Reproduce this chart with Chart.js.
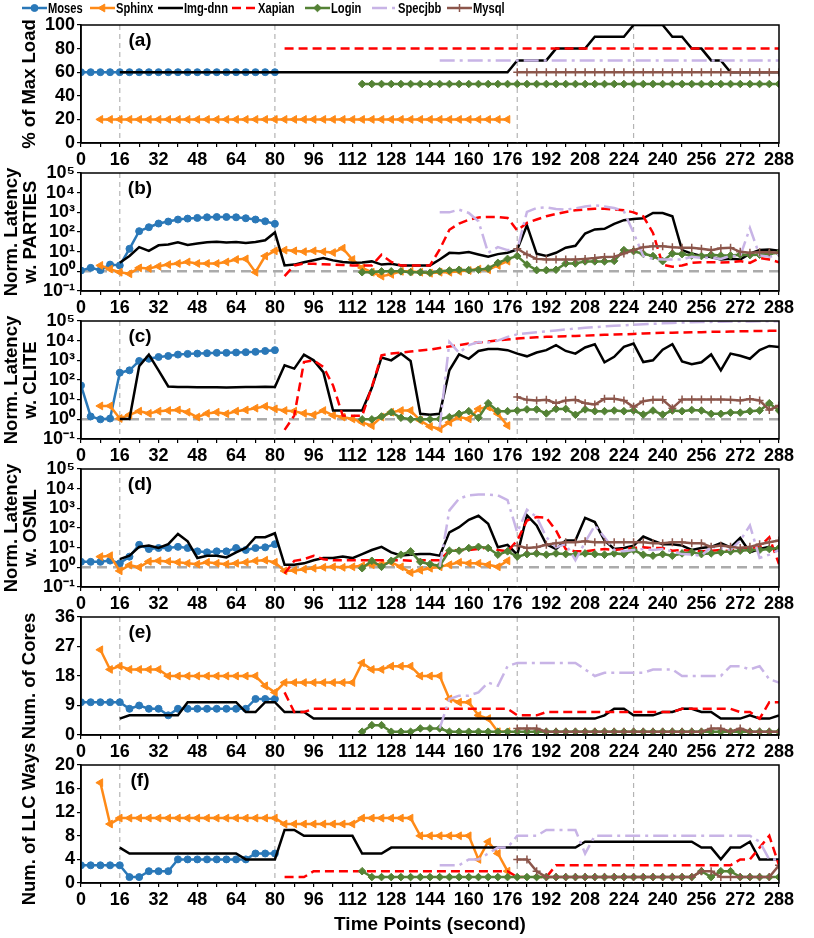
<!DOCTYPE html>
<html>
<head>
<meta charset="utf-8">
<script src="https://cdn.jsdelivr.net/npm/chart.js@4.4.1/dist/chart.umd.min.js"></script>
<style>
  body { margin: 0; background: #fff; }
  #wrap { position: relative; width: 814px; height: 938px; }
  #wrap canvas { position: absolute; left: 0; top: 0; }
</style>
</head>
<body>
<div id="wrap">
  <canvas id="pa" width="814" height="938"></canvas>
  <canvas id="pb" width="814" height="938"></canvas>
  <canvas id="pc" width="814" height="938"></canvas>
  <canvas id="pd" width="814" height="938"></canvas>
  <canvas id="pe" width="814" height="938"></canvas>
  <canvas id="pf" width="814" height="938"></canvas>
</div>
<script>
// apps and the time point each one starts at (samples every 4 s)
const apps = ['Moses', 'Sphinx', 'Img-dnn', 'Xapian', 'Login', 'Specjbb', 'Mysql'];
const appStart = [0, 8, 16, 84, 116, 148, 180];
const step = 4;
const phaseMarks = [16, 80, 180, 228];

const logTicks = [0.1, 1, 10, 100, 1000, 10000, 100000];
const logTickLabels = ['10⁻¹', '10⁰', '10¹', '10²', '10³', '10⁴', '10⁵'];

// (a) % of max load
const loadMoses = [60,60,60,60,60,60,60,60,60,60, 60,60,60,60,60,60,60,60,60,60, 60];
const loadSphinx = [20,20,20,20,20,20,20,20,20,20, 20,20,20,20,20,20,20,20,20,20,
  20,20,20,20,20,20,20,20,20,20, 20,20,20,20,20,20,20,20,20,20, 20,20,20];
const loadImg = [60,60,60,60,60,60,60,60,60,60, 60,60,60,60,60,60,60,60,60,60,
  60,60,60,60,60,60,60,60,60,60, 60,60,60,60,60,60,60,60,60,60, 60,
  70,70,70,70, 80,80,80,80, 90,90,90,90, 100,100,100,100, 90,90, 80,80, 70,70, 60,60,60,60,60,60];
const loadXapian = [80,80,80,80,80,80,80,80,80,80, 80,80,80,80,80,80,80,80,80,80,
  80,80,80,80,80,80,80,80,80,80, 80,80,80,80,80,80,80,80,80,80,
  80,80,80,80,80,80,80,80,80,80, 80,80];
const loadLogin = [50,50,50,50,50,50,50,50,50,50, 50,50,50,50,50,50,50,50,50,50,
  50,50,50,50,50,50,50,50,50,50, 50,50,50,50,50,50,50,50,50,50, 50,50,50,50];
const loadSpecjbb = [70,70,70,70,70,70,70,70,70,70, 70,70,70,70,70,70,70,70,70,70,
  70,70,70,70,70,70,70,70,70,70, 70,70,70,70,70,70];
const loadMysql = [60,60,60,60,60,60,60,60,60,60, 60,60,60,60,60,60,60,60,60,60, 60,60,60,60,60,60,60,60];

// (b) normalized latency with PARTIES
const partiesMoses = [1.1,1.5,1.15,2.2,2.0,14,110,175,270,340,430,480,520,560,580,580,560,500,430,350,260];
const partiesSphinx = [2.0,1.3,0.9,0.75,1.5,1.4,1.8,2.2,2.5,3.0, 2.5,2.5,2.5,3.0,4.0,4.3,0.9,6,11,12,
  11,10,11,10,9,15,4,1.5,0.9,0.57, 0.7,1.0,1.0,0.9,0.8,0.9,0.9,1.0,1.1,1.3, 1.2,2.0,3.3];
const partiesImg = [2.7,6,17,11,21,23,30,22,26,30, 32,29,31,28,31,38,95,2.0,2.2,2.9,
  3.7,4.7,3.6,3.0,2.7,2.8,3.2,2.2,2.4,2.0, 2.0,2.0,2.0,4,8.7,8.4,9.5,7.2,5.5,7.5,
  8.8,13,220,7.8,6,8.8,16,20,83,135, 145,260,400,460,500,930,930,630,12,8, 6,5.3,4,4.3,4,8,12,13,11];
const partiesXapian = [0.57,2.0,2.5,2.4,2.3,2.2,2.1,2.0,2.0,2.0, 7,3,2,2,2,2,13,130,270,420,
  550,580,580,520,120,290,430,630,820,1050, 1270,1400,1530,1530,1400,1270,1000,630,90,2.2,
  1.7,2.0,2.7,2.9,2.9,2.8,2.9,3.3,2.7,4.7, 4,2.9];
const partiesLogin = [0.9,0.9,1.0,1.0,1.0,0.9,0.9,0.85,1.0,1.1, 1.2,1.15,1.2,1.4,2.7,4.3,6,2.2,1.15,1.15,
  1.2,2.5,2.5,3.2,3.2,3.2,3.4,12,10.6,7.8, 6,3.3,8,7.5,6.4,6,7,6.4,6.4,7, 6.7,7,7.8,8.8];
const partiesSpecjbb = [1000,1000,1370,930,350,8.8,17,12,13,1050, 1660,1800,1480,1370,1600,2000,2260,2000,1660,1130,
  90,6,4.3,4,4,4,5.5,4.9,4.9,4.3, 6,6,160,6.4,5.5,7];
const partiesMysql = [14,7.2,4.3,4,4,4,4,4.3,4.7,5.3, 5.5,8,12,17,19,19,17,16,16,14, 12,15,16,9.8,8.8,9.4,9.4,8.8];

// (c) normalized latency with CLITE
const cliteMoses = [53,1.4,1.0,1.1,235,310,930,1200,1480,1670,1960,2130,2200,2300,2400,2400,2500,2600,2700,3000,3300];
const cliteSphinx = [4.8,4.8,1.1,1.7,2.6,2.0,2.6,2.8,3.0,2.3, 1.3,2.0,2.3,1.9,2.6,3.0,3.7,4.6,3.4,2.8,
  2.6,2.0,1.7,2.8,1.6,1.3,1.05,0.7,0.48,1.3, 2.3,2.8,2.8,0.87,0.43,0.33,0.7,1.3,1.05,3.4, 4.2,1.9,0.48];
const cliteImg = [1.05,1.05,500,1960,310,47,44,44,43,43, 43,42,43,44,44,45,44,560,380,1960,
  1000,250,2.8,2.8,2.8,2.8,40,1400,1000,2200, 930,1.9,1.7,1.9,310,2000,1200,3000,3800,3800,
  3300,2200,1600,2500,3300,5900,3000,2200,4500,6600, 800,1500,4800,7100,820,1000,3500,6600,880,630,
  800,2000,310,2200,1700,1200,3300,5400,4800];
const cliteXapian = [0.29,1.55,820,1000,460,53,1.55,1.5,1.5,44, 1800,2200,2500,2800,3200,3500,4200,5000,6000,7100,
  8000,9000,10300,11500,12800,14000,15000,15600,16300,17000, 17500,18000,19000,20000,20500,21000,22000,23000,24000,25000,
  25500,26000,26500,27000,28000,28500,29000,30000,30500,31000, 31500,32000];
const cliteLogin = [1.0,1.0,1.4,2.3,1.2,1.0,1.0,1.0,1.05,1.3, 1.9,2.6,1.2,6.6,2.6,2.6,2.8,3.2,3.2,2.0,
  3.4,3.4,1.7,3.2,2.6,2.6,2.8,2.6,2.8,1.75, 2.8,1.75,2.8,2.6,3.0,2.8,1.9,1.9,2.2,2.2, 2.6,2.8,6.6,2.8];
const cliteSpecjbb = [0.39,8600,2400,5900,8600,8000,10000,15600,21000,24000, 27000,30000,33000,37000,41000,45000,49000,53000,57000,61000,
  64000,68000,72000,76000,80000,83000,86000,88000,90000,92000, 93000,94000,95000,96000,97000,97000];
const cliteMysql = [13.5,9.8,9.1,9.8,6.6,9.1,9.8,6.6,5.7,11, 11,9.1,4.2,8.4,9.8,9.8,3.7,10.3,10.3,10.3, 10.3,10.3,9.8,9.1,10.7,9.1,3.0,5.0];

// (d) normalized latency with OSML
const osmlMoses = [1.9,1.9,1.9,2.2,1.6,3.5,14,8.5,9.6,9.6,11,9.6,6.5,5.8,6.5,6.5,9.6,7.6,9.6,10.4,15];
const osmlSphinx = [3.5,3.9,0.66,1.3,1.0,2.0,2.15,2.0,1.8,1.6, 1.45,1.8,1.6,1.45,1.6,1.8,2.15,2.3,1.8,0.66,
  0.7,0.8,0.9,1.0,1.06,1.0,1.06,1.2,1.35,1.45, 1.8,1.06,0.54,0.71,0.9,1.06,1.35,1.8,1.6,1.6, 1.35,1.06,2.15];
const osmlImg = [2.6,3.9,11,12.7,9.6,15,50,21,3,3.9, 3.9,3.2,5.8,9.6,34,34,54,1.35,1.35,1.6,
  2.3,2.95,2.95,3.5,2.95,4.7,7.6,11,5.8,4.0, 4.4,4.7,4.7,3.9,60,110,260,420,165,10.4,
  14,4.4,440,135,15,8.5,23,23,330,200, 23,8.5,9.6,12.7,37,23,15,15,12.7,7.6, 9.6,11,17,10.4,31,5.8,8.5,11,7];
const osmlXapian = [0.48,2.15,2.6,3.9,2.6,2.3,2.3,2.3,2.3,2.3, 2.3,2.3,2.3,2.15,2.3,2.3,2.3,7,7.6,7.6,
  8.5,10.4,7.6,6.5,23,240,360,330,75,8.5, 6.5,6.5,7.6,8.5,7.6,8.5,9.6,10.4,9.6,9.6,
  7,7.6,7,6.5,7,7.6,6.5,9.6,9.6,11, 34,1.45];
const osmlLogin = [0.9,2.15,1.06,2.15,4.4,6.5,1.9,1.45,1.2,7, 7,9.6,11,9.6,4.4,6.5,3.5,4.7,5.1,4.4,
  5.1,4.7,4.4,5.1,4.7,4.4,5.1,4.7,7.6,4.4, 3.9,4.7,3.9,5.1,5.8,4.7,5.1,5.8,6.5,7, 7.6,7.6,8.5,9.6];
const osmlSpecjbb = [1.06,790,3100,4600,5000,5000,4600,2600,60,850, 360,34,10.4,15,2.3,19,135,34,7.6,6.5,
  7.6,8.5,7.6,8.5,6.5,4.7,4.4,3.9,11,9.6, 7.6,23,135,3,4.4,7.6];
const osmlMysql = [12.7,9.6,10.4,14,17,19,19,21,19,19, 19,19,19,19,17,17,19,19,17,17, 11,12.7,11,9.6,11,15,19,23];

// (e) number of cores
const coresMoses = [10,10,10,10,10,8,9,8,8,6, 8,8,8,8,8,8,8,8,11,11, 11];
const coresSphinx = [26,20,21,20,20,20,20,18, 18,18,18,18,18,18,18,18,18, 15,13,16, 16,16,16,16,16,16,16,
  22,20,20,21,21,21, 18,18,18, 11,10,10,6,5,1,1];
const coresImg = [5, 6,6,6,6,6,6, 10,10,10,10,10,10, 7,7, 10,10, 7,7,7,
  5,5,5,5,5,5,5,5,5,5, 5,5,5,5,5,5,5,5,5,5, 5,5,5,5,5,5,5,5,5,5,
  6,8,8,6,6,6,7,7,8,8,7,7,5,5,5,6,5,5,6];
const coresXapian = [13,7,7, 8,8,8,8,8,8,8,8,8,8, 8,8,8,8,8,8,8,8,8,8, 8, 6,6,6,
  7,7,7,7,7,7,7,7,7,7,7,7,7,7, 8,8,8,8,8,8, 7,7,5,10,10];
const coresLogin = [1,3,3,1,1,1,2,2,2, 1,1,1,1,1,1,1,1,1,1, 1,1,1,1,1,1,1,1,1,1,
  1,1,1,1,1,1,1,1,1,1, 1,1,1,1,1];
const coresSpecjbb = [2,11,12,12,13,16,15,21, 22,22,22,22,22,22,22, 20,18, 19,19,19,19,19,20,20,20,
  18,18,18,18,18, 21,21,20,21,17,16];
const coresMysql = [2,2,2, 1,1,1,1,1,1,1,1,1,1,1,1,1,1,1,1,1, 2,2,1,2, 1,1,1,1];

// (f) number of LLC ways
const waysMoses = [3,3,3,3,3, 1,1, 2,2,2, 4,4,4,4,4,4,4,4, 5,5,5];
const waysSphinx = [17,10, 11,11,11,11,11,11,11,11,11,11,11,11,11,11,11,11,11,
  10,10,10,10,10,10,10,10, 11,11,11,11,11,11, 8,8,8,8,8,8, 4,7,5,2];
const waysImg = [6, 5,5,5,5,5,5,5,5,5,5,5,5, 4,4,4,4, 9,9, 8,8,8,8,8,8, 5,5,5,
  6,6,6,6,6,6,6,6,6,6, 6,6,6,6,6,6,6,6,6,6,
  7,7,7,7,7,7,7,7,7,7,7,7, 6,6,4,6,6,7,4,4,4];
const waysXapian = [1,1,1, 2,2,2,2,2,2,2,2,2,2, 2,2,2,2,2,2,2,2,2,2, 2, 1,1,1,1,
  3,3,3,3,3,3,3,3,3,3, 3,3,3,3,3,3,3,3, 3,4,4,6,8,3];
const waysLogin = [2, 1,1,1,1,1,1,1,1,1,1, 1,1,1,1,1,1,1,1,1,1, 1,1,1,1,1,1,1,1,1,1, 1,1,1,1,
  2,1,2,2, 1,1,1,1,1];
const waysSpecjbb = [3,3,3,4,4,5,6,6,8,8,8,9,9,9,9,5, 8,8,8,8,8,8,8,8,8,8,8,8,8,8,8,8, 8,7,4,4];
const waysMysql = [4,4,2, 1,1,1,1,1,1,1,1,1,1,1,1,1,1,1,1, 2,2, 1,1,1,1,1,1, 3];

// styles
const appColors = ['#2a78b8', '#ff8a17', '#000000', '#ff0000', '#548235', '#c8b4e6', '#8c564b'];
const appDash = [[], [], [], [9, 5], [], [15, 5, 3, 5], []];
const appPoint = ['circle', 'triangle', false, false, 'rectRot', false, 'cross'];
const appRadius = [3.5, 4.5, 0, 0, 3.8, 0, 4];

Chart.defaults.font.family = "'Liberation Sans', Arial, sans-serif";
Chart.defaults.font.weight = 'bold';
Chart.defaults.color = '#000';

const decor = {
  id: 'decor',
  beforeDatasetsDraw(chart, args, opts) {
    const {ctx, chartArea: a, scales: {x, y}} = chart;
    ctx.save();
    ctx.strokeStyle = '#b4b4b4';
    ctx.lineWidth = 1.2;
    ctx.setLineDash([5, 4]);
    phaseMarks.forEach(t => {
      const px = x.getPixelForValue(t);
      ctx.beginPath(); ctx.moveTo(px, a.top); ctx.lineTo(px, a.bottom); ctx.stroke();
    });
    if (opts.baseline) {
      const py = y.getPixelForValue(1);
      ctx.strokeStyle = '#ababab';
      ctx.lineWidth = 2.5;
      ctx.setLineDash([10, 6]);
      ctx.beginPath(); ctx.moveTo(a.left, py); ctx.lineTo(a.right, py); ctx.stroke();
    }
    ctx.restore();
  },
  afterDraw(chart, args, opts) {
    const {ctx, chartArea: a} = chart;
    ctx.save();
    ctx.strokeStyle = '#000';
    ctx.lineWidth = 1.5;
    ctx.strokeRect(a.left, a.top, a.right - a.left, a.bottom - a.top);
    ctx.fillStyle = '#000';
    ctx.font = "bold 19px 'Liberation Sans', Arial, sans-serif";
    ctx.textAlign = 'center';
    ctx.textBaseline = 'middle';
    ctx.fillText(opts.label, a.left + 59, a.top + 16);
    if (opts.legend) {
      const xs = [22, 90, 158, 232, 305, 372, 447];
      const ly = 8;
      apps.forEach((name, i) => {
        const x0 = xs[i];
        ctx.strokeStyle = appColors[i];
        ctx.fillStyle = appColors[i];
        ctx.lineWidth = 2.5;
        ctx.setLineDash(appDash[i]);
        ctx.beginPath(); ctx.moveTo(x0, ly); ctx.lineTo(x0 + 25, ly); ctx.stroke();
        ctx.setLineDash([]);
        if (appPoint[i]) {
          ctx.lineWidth = appPoint[i] === 'cross' ? 1.5 : 1;
          Chart.helpers.drawPoint(ctx, {pointStyle: appPoint[i], rotation: appPoint[i] === 'triangle' ? -90 : 0,
            radius: appRadius[i], borderWidth: ctx.lineWidth}, x0 + 12.5, ly);
        }
        ctx.save();
        ctx.translate(x0 + 26, ly);
        ctx.scale(0.72, 1);
        ctx.fillStyle = '#000';
        ctx.font = "bold 15.5px 'Liberation Sans', Arial, sans-serif";
        ctx.textAlign = 'left';
        ctx.fillText(name, 0, 1);
        ctx.restore();
      });
    }
    ctx.restore();
  }
};

function makeSets(series) {
  return series.map((vals, i) => ({
    label: apps[i],
    data: vals.map((v, j) => ({x: appStart[i] + j * step, y: v})),
    borderColor: appColors[i],
    backgroundColor: appColors[i],
    borderWidth: 2.5,
    borderDash: appDash[i],
    pointStyle: appPoint[i] || 'circle',
    pointRadius: appRadius[i],
    pointRotation: appPoint[i] === 'triangle' ? -90 : 0,
    pointBorderWidth: appPoint[i] === 'cross' ? 1.5 : 1,
    pointBackgroundColor: appColors[i],
    pointBorderColor: appColors[i],
    tension: 0,
    order: apps.length - i
  }));
}

const panels = [
  {id: 'pa', label: '(a)', top: 25, title: '% of Max Load', min: 0, max: 100, stepSize: 20,
    series: [loadMoses, loadSphinx, loadImg, loadXapian, loadLogin, loadSpecjbb, loadMysql]},
  {id: 'pb', label: '(b)', top: 173, title: ['Norm. Latency', 'w. PARTIES'], log: true,
    series: [partiesMoses, partiesSphinx, partiesImg, partiesXapian, partiesLogin, partiesSpecjbb, partiesMysql]},
  {id: 'pc', label: '(c)', top: 321, title: ['Norm. Latency', 'w. CLITE'], log: true,
    series: [cliteMoses, cliteSphinx, cliteImg, cliteXapian, cliteLogin, cliteSpecjbb, cliteMysql]},
  {id: 'pd', label: '(d)', top: 469, title: ['Norm. Latency', 'w. OSML'], log: true,
    series: [osmlMoses, osmlSphinx, osmlImg, osmlXapian, osmlLogin, osmlSpecjbb, osmlMysql]},
  {id: 'pe', label: '(e)', top: 617, title: 'Num. of Cores', min: 0, max: 36, stepSize: 9,
    series: [coresMoses, coresSphinx, coresImg, coresXapian, coresLogin, coresSpecjbb, coresMysql]},
  {id: 'pf', label: '(f)', top: 765, title: 'Num. of LLC Ways', min: 0, max: 20, stepSize: 4,
    series: [waysMoses, waysSphinx, waysImg, waysXapian, waysLogin, waysSpecjbb, waysMysql]}
];

const plotH = 118;
const axisLine = {display: true, color: '#000', width: 1.5};
const tickGrid = {drawOnChartArea: false, drawTicks: true, tickLength: 4, color: '#000', lineWidth: 1.2};

panels.forEach((p, k) => {
  const last = k === panels.length - 1;
  const xh = last ? 55 : 30;
  const twoLine = Array.isArray(p.title);
  const yAxis = {
    type: p.log ? 'logarithmic' : 'linear',
    min: p.log ? 0.1 : p.min,
    max: p.log ? 100000 : p.max,
    border: axisLine,
    grid: tickGrid,
    ticks: {font: {size: 18, weight: 'bold'}, color: '#000', padding: 2, autoSkip: false},
    title: {display: true, text: p.title, color: '#000',
      font: {size: 18.5, weight: 'bold', lineHeight: 1}, padding: {top: twoLine ? 2.75 : 20.75, bottom: 0}},
    afterFit: s => { s.width = 81; s.paddingTop = 0; s.paddingBottom = 0; }
  };
  if (p.log) {
    yAxis.afterBuildTicks = s => { s.ticks = logTicks.map(v => ({value: v})); };
    yAxis.ticks.callback = v => logTickLabels[Math.round(Math.log10(v)) + 1];
  } else {
    yAxis.ticks.stepSize = p.stepSize;
  }
  new Chart(document.getElementById(p.id), {
    type: 'line',
    data: {datasets: makeSets(p.series)},
    plugins: [decor],
    options: {
      responsive: false,
      animation: false,
      layout: {padding: {top: p.top, left: 0, right: 35, bottom: 938 - p.top - plotH - xh}},
      plugins: {
        legend: {display: false},
        tooltip: {enabled: false},
        decor: {label: p.label, baseline: !!p.log, legend: k === 0}
      },
      scales: {
        x: {
          type: 'linear', min: 0, max: 288,
          border: axisLine,
          grid: tickGrid,
          ticks: {stepSize: 8, autoSkip: false, maxRotation: 0, padding: 2, color: '#000',
            font: {size: 18, weight: 'bold'},
            callback: v => (v % 16 === 0 ? String(v) : '')},
          title: {display: last, text: 'Time Points (second)', color: '#000',
            font: {size: 19, weight: 'bold'}, padding: {top: 0, bottom: 2}},
          afterFit: s => { s.height = xh; s.paddingLeft = 0; s.paddingRight = 0; }
        },
        y: yAxis
      }
    }
  });
});
</script>
</body>
</html>
